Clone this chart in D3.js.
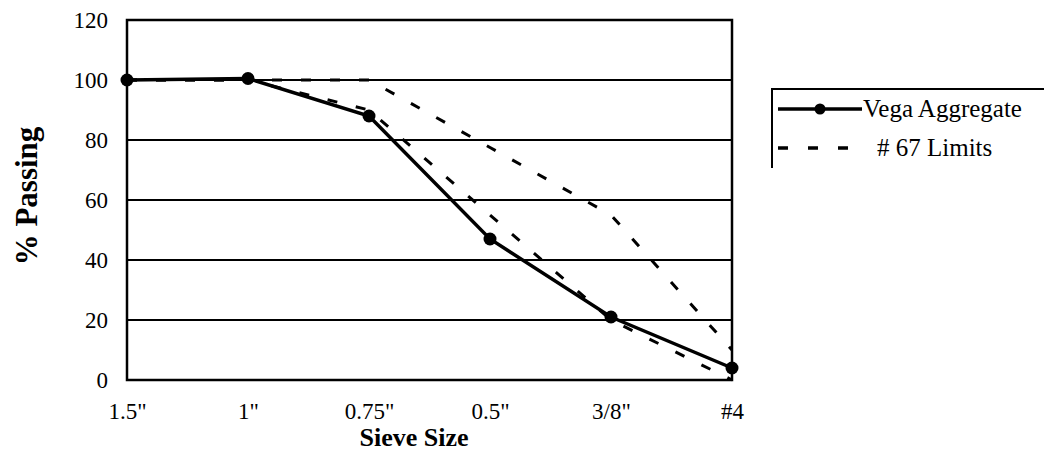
<!DOCTYPE html>
<html>
<head>
<meta charset="utf-8">
<script src="https://cdn.jsdelivr.net/npm/d3@7"></script>
<style>
  body { margin: 0; background: #fff; }
  svg { display: block; }
  svg text { font-family: "Liberation Serif", "Times New Roman", Times, "DejaVu Serif", serif; fill: #000; }
</style>
</head>
<body>
<svg></svg>
<script>
'use strict';
// chart values
var sieves = ['1.5"', '1"', '0.75"', '0.5"', '3/8"', '#4'];
var vega = [100, 100.5, 88, 47, 21, 4];
var upperLimit = [100, 100, 100, 77.5, 55, 10];
var lowerLimit = [100, 100, 90, 55, 20, 0];
var yTicks = [0, 20, 40, 60, 80, 100, 120];

var canvasWidth = 1044;
var canvasHeight = 461;
var margin = { top: 20, left: 127 };
var width = 732 - 127;
var height = 380 - 20;

var svg = d3.select('svg')
  .attr('width', canvasWidth)
  .attr('height', canvasHeight);

var g = svg.append('g')
  .attr('transform', 'translate(' + margin.left + ',' + margin.top + ')');

var xScale = d3.scalePoint().domain(sieves).range([0, width]).padding(0);
var yScale = d3.scaleLinear().domain([0, 120]).range([height, 0]);

// gridlines
g.selectAll('.grid')
  .data(yTicks.slice(1, -1))
  .enter().append('line')
  .attr('x1', 0).attr('x2', width)
  .attr('y1', function(d) { return yScale(d); })
  .attr('y2', function(d) { return yScale(d); })
  .attr('stroke', '#000')
  .attr('stroke-width', 2);

// y axis labels
var yAxis = g.append('g')
  .call(d3.axisLeft(yScale).tickValues(yTicks).tickSize(0).tickPadding(19));
yAxis.attr('font-family', null).attr('font-size', 23);
yAxis.select('.domain').remove();

// x axis labels
var xAxis = g.append('g')
  .attr('transform', 'translate(0,' + height + ')')
  .call(d3.axisBottom(xScale).tickSize(0).tickPadding(23));
xAxis.attr('font-family', null).attr('font-size', 23);
xAxis.select('.domain').remove();

var line = d3.line()
  .x(function(d, i) { return xScale(sieves[i]); })
  .y(function(d) { return yScale(d); });

// #67 limits
[upperLimit, lowerLimit].forEach(function(lim) {
  g.append('path')
    .datum(lim)
    .attr('d', line)
    .attr('fill', 'none')
    .attr('stroke', '#000')
    .attr('stroke-width', 3)
    .attr('stroke-dasharray', '10,19');
});

// vega aggregate
g.append('path')
  .datum(vega)
  .attr('d', line)
  .attr('fill', 'none')
  .attr('stroke', '#000')
  .attr('stroke-width', 3.5);

g.selectAll('.pt')
  .data(vega)
  .enter().append('circle')
  .attr('cx', function(d, i) { return xScale(sieves[i]); })
  .attr('cy', function(d) { return yScale(d); })
  .attr('r', 6.5)
  .attr('fill', '#000');

// plot border
g.append('rect')
  .attr('width', width)
  .attr('height', height)
  .attr('fill', 'none')
  .attr('stroke', '#000')
  .attr('stroke-width', 2.5);

// axis titles
svg.append('text')
  .attr('x', 414)
  .attr('y', 446)
  .attr('text-anchor', 'middle')
  .attr('font-weight', 'bold')
  .attr('font-size', 26)
  .text('Sieve Size');

svg.append('text')
  .attr('transform', 'translate(37,196) rotate(-90)')
  .attr('text-anchor', 'middle')
  .attr('font-weight', 'bold')
  .attr('font-size', 31)
  .text('% Passing');

// legend
var legend = svg.append('g');
legend.append('path')
  .attr('d', 'M772,168V89H1044')
  .attr('fill', 'none')
  .attr('stroke', '#000')
  .attr('stroke-width', 2);

legend.append('line')
  .attr('x1', 778).attr('x2', 862)
  .attr('y1', 109).attr('y2', 109)
  .attr('stroke', '#000')
  .attr('stroke-width', 3.5);
legend.append('circle')
  .attr('cx', 820).attr('cy', 109).attr('r', 5.5)
  .attr('fill', '#000');
legend.append('text')
  .attr('x', 863).attr('y', 117)
  .attr('font-size', 25)
  .text('Vega Aggregate');

legend.append('line')
  .attr('x1', 778).attr('x2', 848)
  .attr('y1', 148).attr('y2', 148)
  .attr('stroke', '#000')
  .attr('stroke-width', 3.5)
  .attr('stroke-dasharray', '10,20');
legend.append('text')
  .attr('x', 877).attr('y', 156)
  .attr('font-size', 25)
  .text('# 67 Limits');
</script>
</body>
</html>
